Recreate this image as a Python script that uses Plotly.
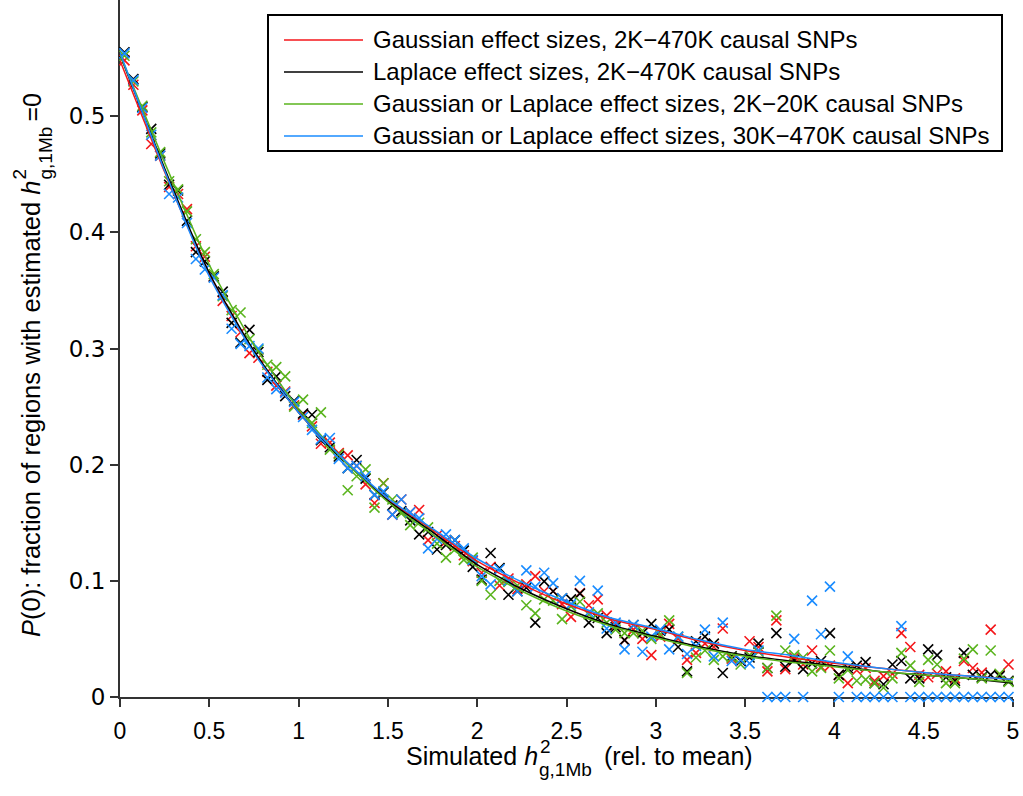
import plotly.graph_objects as go

# ---- data ----
x_pts = [0.025, 0.075, 0.125, 0.175, 0.225, 0.275, 0.325, 0.375, 0.425, 0.475,
         0.525, 0.575, 0.625, 0.675, 0.725, 0.775, 0.825, 0.875, 0.925, 0.975,
         1.025, 1.075, 1.125, 1.175, 1.225, 1.275, 1.325, 1.375, 1.425, 1.475,
         1.525, 1.575, 1.625, 1.675, 1.725, 1.775, 1.825, 1.875, 1.925, 1.975,
         2.025, 2.075, 2.125, 2.175, 2.225, 2.275, 2.325, 2.375, 2.425, 2.475,
         2.525, 2.575, 2.625, 2.675, 2.725, 2.775, 2.825, 2.875, 2.925, 2.975,
         3.025, 3.075, 3.125, 3.175, 3.225, 3.275, 3.325, 3.375, 3.425, 3.475,
         3.525, 3.575, 3.625, 3.675, 3.725, 3.775, 3.825, 3.875, 3.925, 3.975,
         4.025, 4.075, 4.125, 4.175, 4.225, 4.275, 4.325, 4.375, 4.425, 4.475,
         4.525, 4.575, 4.625, 4.675, 4.725, 4.775, 4.825, 4.875, 4.925, 4.975]

red_pts = [0.548, 0.527, 0.505, 0.476, 0.466, 0.439, 0.433, 0.420, 0.388, 0.379,
           0.362, 0.341, 0.328, 0.314, 0.296, 0.292, 0.280, 0.268, 0.263, 0.251,
           0.243, 0.233, 0.218, 0.219, 0.210, 0.208, 0.199, 0.183, 0.167, 0.184,
           0.157, 0.170, 0.159, 0.161, 0.135, 0.139, 0.134, 0.130, 0.122, 0.117,
           0.107, 0.112, 0.096, 0.102, 0.093, 0.097, 0.104, 0.091, 0.091, 0.080,
           0.069, 0.0895, 0.079, 0.084, 0.070, 0.062, 0.049, 0.058, 0.050, 0.036,
           0.052, 0.063, 0.050, 0.032, 0.038, 0.046, 0.043, 0.059, 0.033, 0.031,
           0.048, 0.043, 0.022, 0.066, 0.024, 0.034, 0.028, 0.040, 0.026, 0.027,
           0.019, 0.012, 0.023, 0.025, 0.014, 0.018, 0.020, 0.055, 0.043, 0.019,
           0.017, 0.020, 0.022, 0.016, 0.031, 0.025, 0.021, 0.058, 0.019, 0.028]

black_pts = [0.555, 0.532, 0.508, 0.489, 0.468, 0.441, 0.436, 0.410, 0.383, 0.375,
             0.362, 0.349, 0.322, 0.305, 0.316, 0.297, 0.273, 0.276, 0.259, 0.255,
             0.244, 0.243, 0.221, 0.215, 0.207, 0.197, 0.204, 0.188, 0.174, 0.176,
             0.165, 0.160, 0.152, 0.140, 0.142, 0.127, 0.131, 0.135, 0.126, 0.112,
             0.101, 0.124, 0.111, 0.088, 0.091, 0.094, 0.064, 0.0995, 0.091, 0.085,
             0.084, 0.089, 0.064, 0.068, 0.055, 0.060, 0.049, 0.062, 0.055, 0.063,
             0.057, 0.058, 0.043, 0.022, 0.048, 0.052, 0.046, 0.0207, 0.035, 0.031,
             0.034, 0.046, 0.025, 0.055, 0.026, 0.032, 0.024, 0.029, 0.031, 0.055,
             0.019, 0.025, 0.027, 0.030, 0.012, 0.011, 0.028, 0.031, 0.016, 0.016,
             0.041, 0.036, 0.017, 0.014, 0.038, 0.019, 0.017, 0.019, 0.018, 0.014]

green_pts = [0.552, 0.530, 0.509, 0.486, 0.469, 0.444, 0.437, 0.418, 0.394, 0.383,
             0.364, 0.345, 0.333, 0.331, 0.308, 0.299, 0.286, 0.284, 0.276, 0.250,
             0.256, 0.236, 0.245, 0.213, 0.209, 0.178, 0.190, 0.196, 0.163, 0.184,
             0.170, 0.158, 0.148, 0.150, 0.146, 0.132, 0.120, 0.127, 0.118, 0.120,
             0.100, 0.088, 0.100, 0.099, 0.096, 0.079, 0.072, 0.084, 0.083, 0.067,
             0.078, 0.082, 0.071, 0.072, 0.064, 0.058, 0.055, 0.055, 0.057, 0.050,
             0.054, 0.066, 0.052, 0.0207, 0.034, 0.040, 0.032, 0.035, 0.034, 0.028,
             0.036, 0.039, 0.025, 0.070, 0.040, 0.036, 0.034, 0.022, 0.025, 0.040,
             0.016, 0.023, 0.014, 0.015, 0.012, 0.008, 0.016, 0.038, 0.027, 0.013,
             0.032, 0.028, 0.012, 0.012, 0.033, 0.041, 0.016, 0.040, 0.020, 0.013]

blue_pts = [0.554, 0.531, 0.507, 0.484, 0.466, 0.433, 0.430, 0.408, 0.377, 0.368,
            0.361, 0.346, 0.317, 0.304, 0.302, 0.300, 0.275, 0.265, 0.262, 0.254,
            0.241, 0.230, 0.222, 0.223, 0.205, 0.197, 0.199, 0.190, 0.174, 0.177,
            0.157, 0.170, 0.159, 0.154, 0.128, 0.136, 0.140, 0.135, 0.128, 0.118,
            0.104, 0.097, 0.110, 0.100, 0.091, 0.109, 0.095, 0.107, 0.098, 0.085,
            0.080, 0.100, 0.073, 0.0916, 0.059, 0.064, 0.041, 0.062, 0.039, 0.052,
            0.058, 0.041, 0.052, 0.037, 0.044, 0.058, 0.035, 0.064, 0.031, 0.032,
            0.029, 0.040, 0.0, 0.0, 0.0, 0.050, 0.0, 0.083, 0.054, 0.095,
            0.0, 0.035, 0.0, 0.0, 0.0, 0.0, 0.0, 0.061, 0.0, 0.0,
            0.0, 0.0, 0.0, 0.0, 0.0, 0.0, 0.0, 0.0, 0.0, 0.0]

x_fit = [0.0, 0.25, 0.5, 0.75, 1.0, 1.25, 1.5, 1.75, 2.0, 2.25, 2.5,
         2.75, 3.0, 3.25, 3.5, 3.75, 4.0, 4.25, 4.5, 4.75, 5.0]
red_fit = [0.548, 0.452, 0.364, 0.297, 0.245, 0.205, 0.170, 0.144, 0.117, 0.097, 0.080,
           0.067, 0.058, 0.048, 0.040, 0.034, 0.029, 0.025, 0.021, 0.018, 0.015]
black_fit = [0.553, 0.455, 0.365, 0.298, 0.245, 0.204, 0.169, 0.142, 0.114, 0.093, 0.076,
             0.062, 0.052, 0.043, 0.036, 0.031, 0.027, 0.022, 0.019, 0.016, 0.012]
green_fit = [0.553, 0.460, 0.372, 0.303, 0.248, 0.204, 0.168, 0.140, 0.112, 0.091, 0.074,
             0.061, 0.051, 0.042, 0.035, 0.030, 0.026, 0.022, 0.019, 0.016, 0.013]
blue_fit = [0.555, 0.453, 0.362, 0.296, 0.245, 0.205, 0.171, 0.145, 0.119, 0.099, 0.082,
            0.068, 0.059, 0.049, 0.041, 0.036, 0.030, 0.025, 0.021, 0.018, 0.015]

x_ticks = [0, 0.5, 1, 1.5, 2, 2.5, 3, 3.5, 4, 4.5, 5]
x_tick_labels = ["0", "0.5", "1", "1.5", "2", "2.5", "3", "3.5", "4", "4.5", "5"]
y_ticks = [0, 0.1, 0.2, 0.3, 0.4, 0.5]
y_tick_labels = ["0", "0.1", "0.2", "0.3", "0.4", "0.5"]

names = ["Gaussian effect sizes, 2K\u2212470K causal SNPs",
         "Laplace effect sizes, 2K\u2212470K causal SNPs",
         "Gaussian or Laplace effect sizes, 2K\u221220K causal SNPs",
         "Gaussian or Laplace effect sizes, 30K\u2212470K causal SNPs"]
colors = ["#f4161a", "#000000", "#5ab41e", "#1a8cff"]
pts = [red_pts, black_pts, green_pts, blue_pts]
fits = [red_fit, black_fit, green_fit, blue_fit]

FONT = "Liberation Sans, Arial, sans-serif"
YFONT = "DejaVu Sans, Verdana, sans-serif"

# plot-area geometry (pixels)
L, R, T, B = 120, 10, 0, 99
W, H = 1023, 796
PW, PH = W - L - R, H - T - B


def px(x):
    return (x - L) / PW


def py(y):
    return (H - B - y) / PH


fig = go.Figure()
for ys, c in zip(pts, colors):
    fig.add_trace(go.Scatter(
        x=x_pts, y=ys, mode="markers", showlegend=False, cliponaxis=False,
        marker=dict(symbol="x-thin", size=10, color=c, line=dict(color=c, width=1.6)),
        hoverinfo="skip"))
for ys, c, n in zip(fits, colors, names):
    fig.add_trace(go.Scatter(
        x=x_fit, y=ys, mode="lines", name=n, showlegend=False,
        line=dict(color=c, width=1.5, shape="spline", smoothing=0.6)))

fig.update_layout(
    width=W, height=H,
    margin=dict(l=L, r=R, t=T, b=B),
    paper_bgcolor="white", plot_bgcolor="white",
    showlegend=False,
    xaxis=dict(range=[0, 5], tickvals=x_ticks, ticktext=x_tick_labels,
               showline=True, linecolor="#333333", linewidth=2,
               ticks="outside", ticklen=8, tickwidth=2, tickcolor="#333333",
               showgrid=False, zeroline=False, layer="below traces",
               ticklabelstandoff=4,
               tickfont=dict(family=FONT, size=23, color="black")),
    yaxis=dict(range=[0, 0.6], tickvals=y_ticks, ticktext=y_tick_labels,
               showline=True, linecolor="#333333", linewidth=2,
               ticks="outside", ticklen=8, tickwidth=2, tickcolor="#333333",
               showgrid=False, zeroline=False, layer="below traces",
               tickfont=dict(family=YFONT, size=23, color="black")),
)


def ann(text, x, y, xa, ya, size, angle=0):
    fig.add_annotation(text=text, xref="paper", yref="paper", x=px(x), y=py(y),
                       xanchor=xa, yanchor=ya, showarrow=False, textangle=angle,
                       borderpad=0, font=dict(family=FONT, size=size, color="black"))


# legend box (drawn manually to match the reference spacing)
fig.add_shape(type="rect", xref="paper", yref="paper",
              x0=px(268), x1=px(1002), y0=py(151), y1=py(15),
              line=dict(color="black", width=2), fillcolor="white", layer="above")
row_y = [40, 72, 104, 136]
for ry, c, n in zip(row_y, colors, names):
    fig.add_shape(type="line", xref="paper", yref="paper",
                  x0=px(284), x1=px(363), y0=py(ry), y1=py(ry),
                  line=dict(color=c, width=1.5), layer="above")
    ann(n, 372, ry, "left", "middle", 24)

# x-axis title with stacked super/subscript
ann("Simulated <i>h</i>", 539, 756, "right", "middle", 25)
ann("2", 539, 746, "left", "middle", 19)
ann("g,1Mb", 538, 769, "left", "middle", 19)
ann("(rel. to mean)", 603, 756, "left", "middle", 25)

# y-axis title (rotated) with stacked super/subscript
ann("<i>P</i>(0): fraction of regions with estimated <i>h</i>", 31, 180, "center", "top", 25.5, -90)
ann("2", 19, 181, "center", "bottom", 19, -90)
ann("g,1Mb", 45, 181, "center", "bottom", 19, -90)
ann("=0", 31, 123, "center", "bottom", 25, -90)

fig.write_html("out.html", config={"displayModeBar": False},
               post_script="document.body.style.margin='0';document.body.style.padding='0';")
